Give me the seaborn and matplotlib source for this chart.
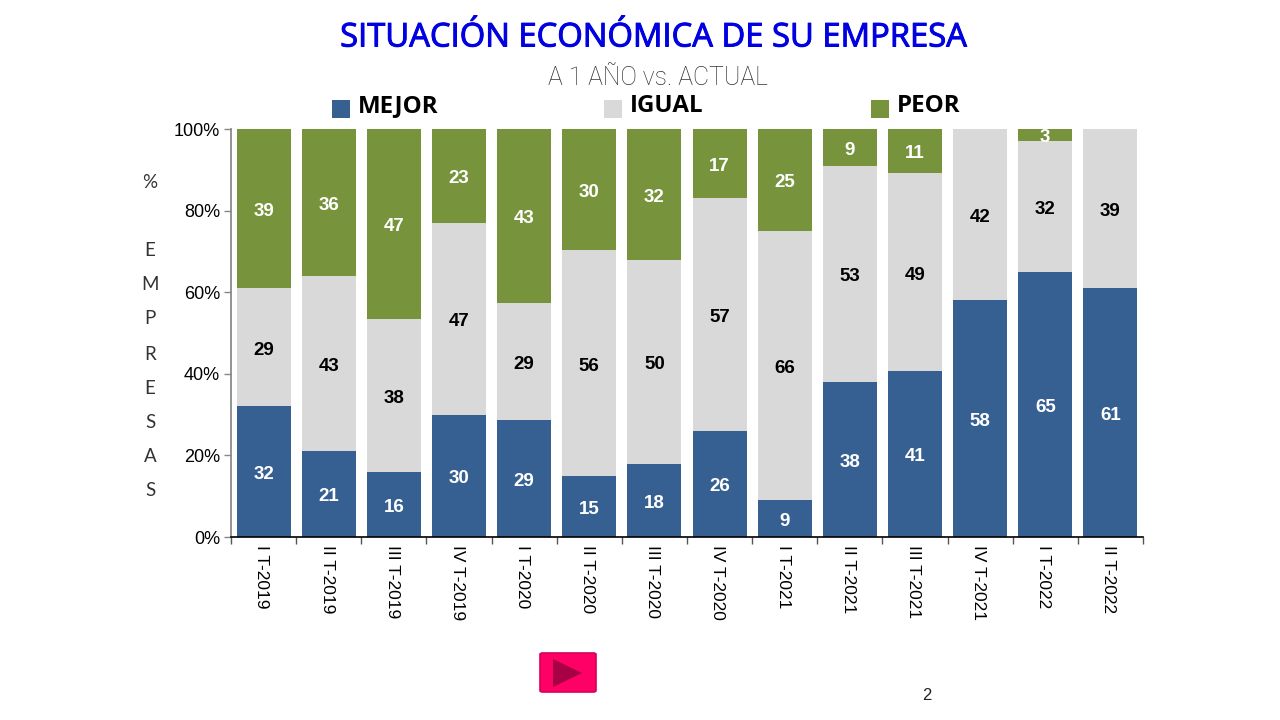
import numpy as np
import pandas as pd
import matplotlib
matplotlib.use('Agg')
import matplotlib.pyplot as plt
import matplotlib.patheffects as pe
from matplotlib.patches import FancyBboxPatch, Polygon, Rectangle
import seaborn as sns

# values as printed on the bars
trimestres = ['I T-2019', 'II T-2019', 'III T-2019', 'IV T-2019',
              'I T-2020', 'II T-2020', 'III T-2020', 'IV T-2020',
              'I T-2021', 'II T-2021', 'III T-2021', 'IV T-2021',
              'I T-2022', 'II T-2022']
mejor = [32, 21, 16, 30, 29, 15, 18, 26, 9, 38, 41, 58, 65, 61]
igual = [29, 43, 38, 47, 29, 56, 50, 57, 66, 53, 49, 42, 32, 39]
peor = [39, 36, 47, 23, 43, 30, 32, 17, 25, 9, 11, 0, 3, 0]
y_ticks = [0, 20, 40, 60, 80, 100]
eje_y = ['%', 'E', 'M', 'P', 'R', 'E', 'S', 'A', 'S']

azul = '#366092'
gris = '#D9D9D9'
verde = '#77933C'

W, H = 1280, 720


def fx(px):
    return px / W


def fy(py):
    return 1 - py / H


sns.set_theme(style='white')
plt.rcParams['font.family'] = ['Liberation Sans', 'DejaVu Sans']

df = pd.DataFrame({'trimestre': trimestres, 'mejor': mejor, 'igual': igual, 'peor': peor})
total = df[['mejor', 'igual', 'peor']].sum(axis=1)

fig = plt.figure(figsize=(W / 100, H / 100), dpi=100)
ax = fig.add_axes([fx(231), fy(537), (1143 - 231) / W, (537 - 129) / H])

# stacked bars, normalised to 100%
bottom = np.zeros(len(df))
for col, color, txt in [('mejor', azul, 'white'), ('igual', gris, 'black'), ('peor', verde, 'white')]:
    pct = (df[col] / total * 100).values
    sns.barplot(x=df['trimestre'], y=pct, color=color, bottom=bottom, width=0.83,
                saturation=1, ax=ax, linewidth=0)
    for i, v in enumerate(df[col]):
        if v > 0:
            ax.annotate(str(v), (i, bottom[i] + pct[i] / 2), xytext=(0, -2), textcoords='offset points',
                        color=txt, ha='center', va='center', fontsize=13.5, fontweight='bold')
    bottom = bottom + pct

ax.set_xlim(-0.5, len(df) - 0.5)
ax.set_ylim(0, 100)
ax.set_xlabel('')
ax.set_ylabel('')
ax.set_yticks(y_ticks)
ax.set_yticklabels([f'{t}%' for t in y_ticks], fontsize=13, color='black')
ax.set_xticks(np.arange(len(df) + 1) - 0.5, minor=False)
ax.set_xticklabels([])
for i, t in enumerate(trimestres):
    ax.annotate(t, (i, 0), xytext=(-1.2, -6), textcoords='offset points', xycoords='data',
                rotation=270, ha='center', va='top', fontsize=12.5, color='black',
                annotation_clip=False)
ax.tick_params(axis='y', length=5, width=1, color='#868686', left=True, pad=3)
ax.tick_params(axis='x', length=5, width=1, color='#555555', bottom=True, direction='out')
for s in ['top', 'right']:
    ax.spines[s].set_visible(False)
ax.spines['left'].set_color('#868686')
ax.spines['bottom'].set_color('black')
ax.spines['bottom'].set_linewidth(1.2)

# titles
titulo = fig.text(fx(654), fy(38), 'SITUACIÓN ECONÓMICA DE SU EMPRESA', color='#0000E0', fontsize=23.6,
                  ha='center', va='center', family=['Open Sans', 'DejaVu Sans'])
titulo.set_path_effects([pe.withStroke(linewidth=0.7, foreground='#0000E0')])
fig.text(fx(658), fy(78), 'A 1 AÑO vs. ACTUAL', color='#333333', fontsize=17.8,
         ha='center', va='center', family=['Roboto', 'DejaVu Sans'], fontweight='light')

# legend
for x0, color, label in [(332, azul, 'MEJOR'), (604, gris, 'IGUAL'), (871, verde, 'PEOR')]:
    fig.add_artist(Rectangle((fx(x0), fy(118)), 18 / W, 18 / H, transform=fig.transFigure,
                             facecolor=color, edgecolor='none'))
    fig.text(fx(x0 + 26), fy(106), label, color='black', fontsize=17.4, fontweight='bold',
             ha='left', va='center', family=['Open Sans', 'DejaVu Sans'])

# vertical axis title, one letter per line
for letra, py in zip(eje_y, [182, 251, 285, 319, 354, 388, 422, 456, 491]):
    fig.text(fx(150), fy(py), letra, color='#333333', fontsize=13.5, ha='center', va='center',
             family=['Lato', 'DejaVu Sans'])

# play button and page number
fig.add_artist(FancyBboxPatch((fx(540), fy(692)), 56 / W, 39 / H, transform=fig.transFigure,
                              boxstyle='round,pad=0,rounding_size=0.002', facecolor='#FF0066',
                              edgecolor='#D8005A', linewidth=1.2))
fig.add_artist(Polygon([(fx(553), fy(659)), (fx(553), fy(687)), (fx(582), fy(673))], closed=True,
                       transform=fig.transFigure, facecolor='#A80044', edgecolor='none'))
fig.text(fx(927), fy(695), '2', color='#222222', fontsize=12, ha='center', va='center')

fig.savefig('out.png', dpi=100)
